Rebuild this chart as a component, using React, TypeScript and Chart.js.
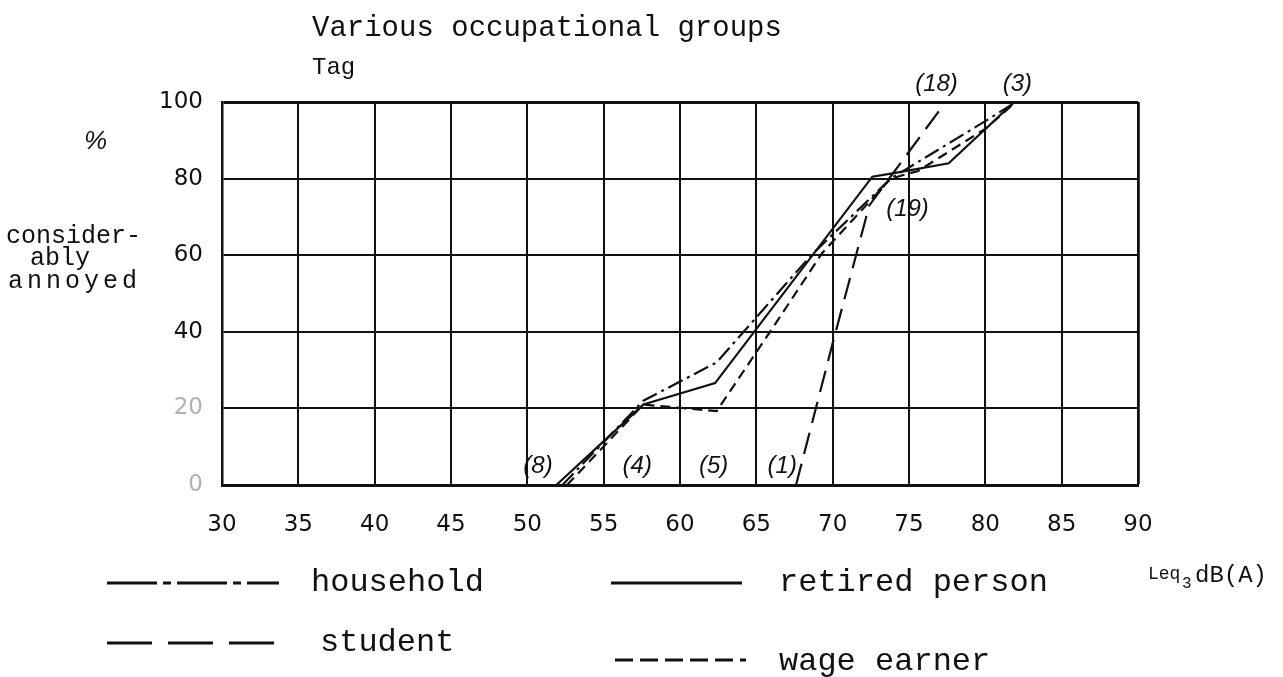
import React, { useEffect, useRef } from "react";
import { Chart, registerables } from "chart.js";

Chart.register(...registerables);

// ---- data ----
const xTickValues = [30, 35, 40, 45, 50, 55, 60, 65, 70, 75, 80, 85, 90];
const yTickValues = [0, 20, 40, 60, 80, 100];

const householdX = [52.3, 57.6, 62.4, 68.6, 73.8, 80, 82];
const householdY = [0, 22, 32, 60, 80, 95, 100];

const retiredX = [51.9, 57.6, 62.3, 72.6, 74.1, 77.6, 81.9];
const retiredY = [0, 21, 26.6, 80.5, 81.5, 84, 100];

const studentX = [67.6, 70, 72.4, 77.4];
const studentY = [0, 37, 73, 100];

const wageX = [52.6, 57.6, 62.4, 65.9, 69.3, 73.8, 75.6, 80, 82];
const wageY = [0, 21, 19.3, 40, 60.5, 80, 82, 93, 100];

const countLabels = ["(8)", "(4)", "(5)", "(1)", "(19)", "(18)", "(3)"];
const countX = [50.7, 57.2, 62.2, 66.7, 74.9, 76.8, 82.1];
const countY = [5, 5, 5, 5, 72, 104.5, 104.5];

const seriesNames = ["household", "retired person", "student", "wage earner"];

const MONO = "'Liberation Mono', 'DejaVu Sans Mono', monospace";
const SANS = "'DejaVu Sans', 'Liberation Sans', sans-serif";
const HAND = "'Liberation Sans', 'DejaVu Sans', sans-serif";

const toPts = (xs: number[], ys: number[]) => xs.map((x, i) => ({ x, y: ys[i] }));

const textPlugin = {
  id: "textPlugin",
  afterDraw(chart: any) {
    const ctx = chart.ctx as CanvasRenderingContext2D;
    const xs = chart.scales.x;
    const ys = chart.scales.y;
    ctx.save();
    ctx.fillStyle = "#111";
    ctx.textBaseline = "middle";
    ctx.textAlign = "left";

    // title & header
    ctx.font = `29px ${MONO}`;
    ctx.fillText("Various occupational groups", 312, 28);
    ctx.font = `24px ${MONO}`;
    ctx.fillText("Tag", 312, 68);

    // y axis title
    ctx.font = `italic 26px ${HAND}`;
    ctx.fillText("%", 84, 142);
    ctx.font = `25px ${MONO}`;
    ctx.fillText("consider-", 6, 236);
    ctx.fillText("ably", 30, 258);
    (ctx as any).letterSpacing = "4px";
    ctx.fillText("annoyed", 8, 281);
    (ctx as any).letterSpacing = "0px";

    // count annotations
    ctx.font = `italic 24px ${HAND}`;
    ctx.textAlign = "center";
    countLabels.forEach((t, i) => {
      ctx.fillText(t, xs.getPixelForValue(countX[i]), ys.getPixelForValue(countY[i]));
    });

    // legend
    ctx.textAlign = "left";
    ctx.strokeStyle = "#111";
    ctx.lineWidth = 3;
    const drawLine = (x1: number, x2: number, y: number, dash: number[]) => {
      ctx.setLineDash(dash);
      ctx.beginPath();
      ctx.moveTo(x1, y);
      ctx.lineTo(x2, y);
      ctx.stroke();
    };
    drawLine(107, 279, 583, [50, 6, 8, 6]);
    drawLine(611, 742, 583, []);
    drawLine(107, 279, 643, [45, 16]);
    drawLine(615, 746, 660, [18, 7]);
    ctx.setLineDash([]);
    ctx.font = `32px ${MONO}`;
    ctx.fillText(seriesNames[0], 311, 583);
    ctx.fillText(seriesNames[1], 779, 583);
    ctx.fillText(seriesNames[2], 320, 643);
    ctx.fillText(seriesNames[3], 779, 662);

    ctx.font = `18px ${MONO}`;
    ctx.fillText("Leq", 1148, 574);
    ctx.font = `16px ${MONO}`;
    ctx.fillText("3", 1182, 584);
    ctx.font = `24px ${MONO}`;
    ctx.fillText("dB(A)", 1195, 576);
    ctx.restore();
  },
};

export default function App() {
  const ref = useRef<HTMLCanvasElement | null>(null);

  useEffect(() => {
    document.body.style.margin = "0";
    const canvas = ref.current;
    if (!canvas) return;
    const common = {
      borderColor: "#111",
      borderWidth: 2.2,
      pointRadius: 0,
      tension: 0,
      fill: false,
    };
    const chart = new Chart(canvas, {
      type: "line",
      data: {
        datasets: [
          { ...common, label: seriesNames[0], data: toPts(householdX, householdY), borderDash: [16, 5, 3, 5] },
          { ...common, label: seriesNames[1], data: toPts(retiredX, retiredY) },
          { ...common, label: seriesNames[2], data: toPts(studentX, studentY), borderDash: [22, 10] },
          { ...common, label: seriesNames[3], data: toPts(wageX, wageY), borderDash: [10, 6] },
        ],
      },
      options: {
        animation: false,
        responsive: false,
        devicePixelRatio: 1,
        layout: { padding: { left: 0, right: 145, top: 102, bottom: 0 } },
        plugins: { legend: { display: false }, tooltip: { enabled: false }, title: { display: false } },
        scales: {
          x: {
            type: "linear",
            min: 30,
            max: 90,
            afterFit: (s: any) => {
              s.height = 677 - 485;
            },
            afterBuildTicks: (s: any) => {
              s.ticks = xTickValues.map((v) => ({ value: v }));
            },
            ticks: {
              font: { family: SANS, size: 23 },
              color: "#111",
              padding: 26,
              maxRotation: 0,
              autoSkip: false,
              callback: (v: any) => String(v),
            },
            grid: {
              color: "#111",
              lineWidth: (c: any) => (c.tick && c.tick.value === 90 ? 2.8 : 2),
              drawTicks: false,
            },
            border: { color: "#111", width: 3 },
          },
          y: {
            type: "linear",
            min: 0,
            max: 100,
            afterFit: (s: any) => {
              s.width = 222;
            },
            afterBuildTicks: (s: any) => {
              s.ticks = yTickValues.map((v) => ({ value: v }));
            },
            ticks: {
              font: { family: SANS, size: 23 },
              color: (c: any) => (c.tick && c.tick.value <= 20 ? "#b0b0b0" : "#111"),
              padding: 19,
              callback: (v: any) => String(v),
            },
            grid: {
              color: "#111",
              lineWidth: (c: any) => (c.tick && c.tick.value === 100 ? 3 : 2),
              drawTicks: false,
            },
            border: { color: "#111", width: 2.5 },
          },
        },
      },
      plugins: [textPlugin],
    } as any);
    return () => chart.destroy();
  }, []);

  return <canvas ref={ref} width={1283} height={677} style={{ display: "block" }} />;
}
